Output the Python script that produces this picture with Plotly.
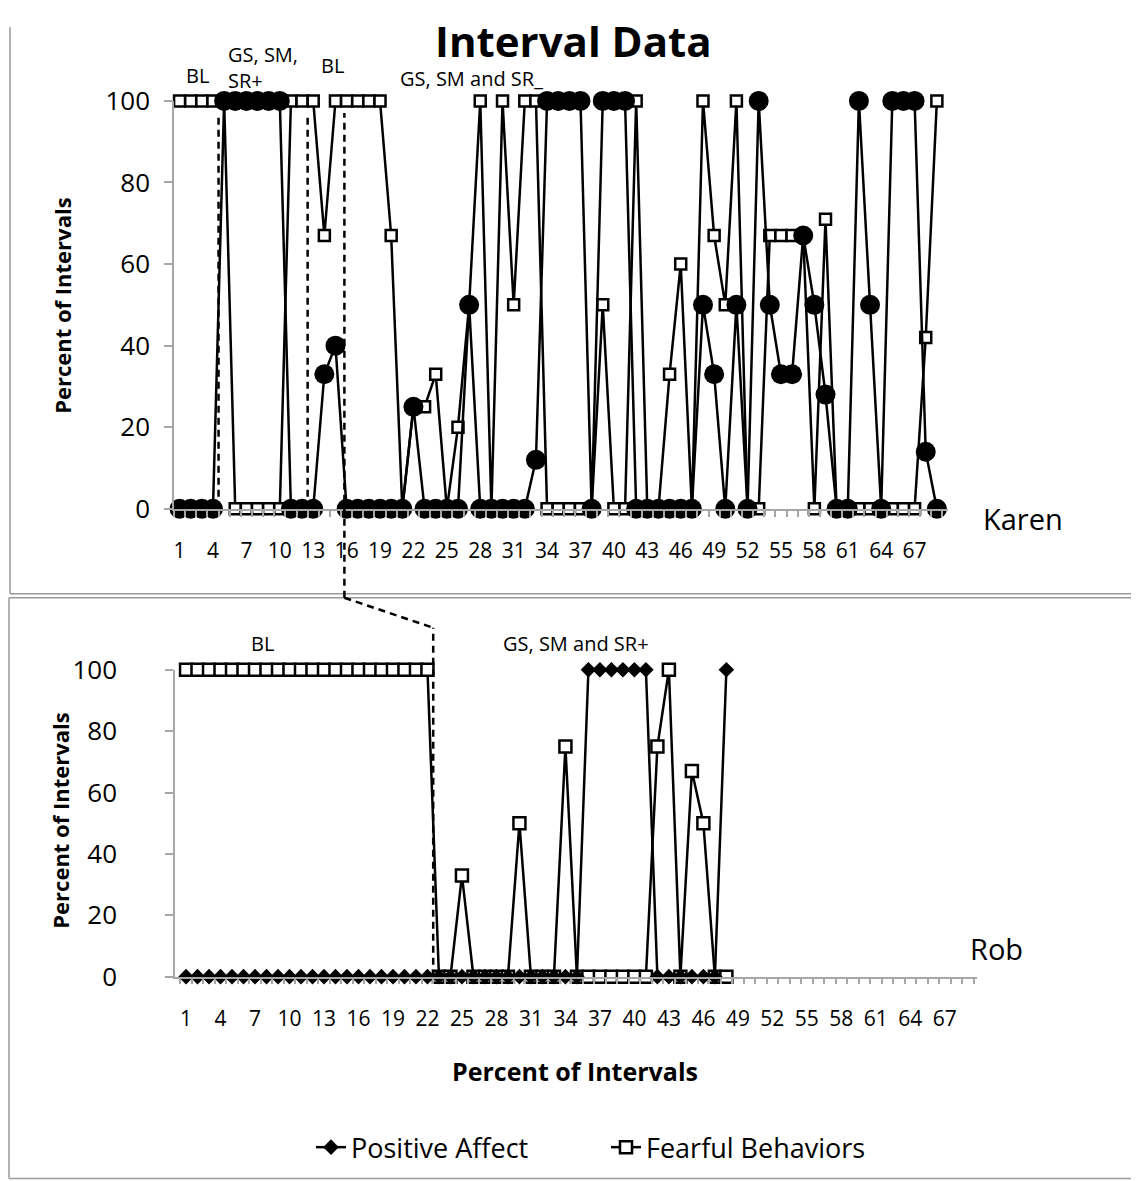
import plotly.graph_objects as go

# ---------------- data ----------------
karen_sessions = list(range(1, 70))
karen_positive = [0, 0, 0, 0, 100, 100, 100, 100, 100, 100,
                  0, 0, 0, 33, 40, 0, 0, 0, 0, 0,
                  0, 25, 0, 0, 0, 0, 50, 0, 0, 0,
                  0, 0, 12, 100, 100, 100, 100, 0, 100, 100,
                  100, 0, 0, 0, 0, 0, 0, 50, 33, 0,
                  50, 0, 100, 50, 33, 33, 67, 50, 28, 0,
                  0, 100, 50, 0, 100, 100, 100, 14, 0]
karen_fearful = [100, 100, 100, 100, 100, 0, 0, 0, 0, 0,
                 100, 100, 100, 67, 100, 100, 100, 100, 100, 67,
                 0, 25, 25, 33, 0, 20, 50, 100, 0, 100,
                 50, 100, 100, 0, 0, 0, 0, 0, 50, 0,
                 0, 100, 0, 0, 33, 60, 0, 100, 67, 50,
                 100, 0, 0, 67, 67, 67, 67, 0, 71, 0,
                 0, 0, 0, 0, 0, 0, 0, 42, 100]

rob_sessions = list(range(1, 49))
rob_positive = [0, 0, 0, 0, 0, 0, 0, 0, 0, 0,
                0, 0, 0, 0, 0, 0, 0, 0, 0, 0,
                0, 0, 0, 0, 0, 0, 0, 0, 0, 0,
                0, 0, 0, 0, 0, 100, 100, 100, 100, 100,
                100, 0, 0, 0, 0, 0, 0, 100]
rob_fearful = [100, 100, 100, 100, 100, 100, 100, 100, 100, 100,
               100, 100, 100, 100, 100, 100, 100, 100, 100, 100,
               100, 100, 0, 0, 33, 0, 0, 0, 0, 50,
               0, 0, 0, 75, 0, 0, 0, 0, 0, 0,
               0, 75, 100, 0, 67, 50, 0, 0]

x_tick_labels = [1, 4, 7, 10, 13, 16, 19, 22, 25, 28, 31, 34, 37, 40, 43, 46, 49, 52, 55, 58, 61, 64, 67]
y_ticks = [0, 20, 40, 60, 80, 100]

karen_phase_lines = [4.5, 12.5, 15.8]
rob_phase_line = 22.5

# ---------------- geometry helpers (target pixel -> paper) ----------------
OX, OY = 8, 8            # page body margin
FW, FH = 1131, 1189      # figure size
def px(v):
    return (v - OX) / FW
def py(v):
    page = (v - 18.3) / 0.97     # compensate the photographed vertical offset/scale
    return 1 - (page - OY) / FH

FONT = "Open Sans"
BLACK = "#000000"
GRAY = "#a6a6a6"
BORDER = "#9a9a9a"

top_xdom = [px(174), px(948)]
top_xrange = [0.5, 70.0]
bot_xdom = [px(175), px(977)]
bot_xrange = [0.04, 69.8]

def xpaper(val, dom, rng):
    return dom[0] + (val - rng[0]) / (rng[1] - rng[0]) * (dom[1] - dom[0])

fig = go.Figure()

# Karen
fig.add_trace(go.Scatter(x=karen_sessions, y=karen_fearful, mode="lines+markers",
                         line=dict(color=BLACK, width=2.5),
                         marker=dict(symbol="square", size=11, color="white",
                                     line=dict(color=BLACK, width=2.5)),
                         xaxis="x", yaxis="y", showlegend=False, cliponaxis=False))
fig.add_trace(go.Scatter(x=karen_sessions, y=karen_positive, mode="lines+markers",
                         line=dict(color=BLACK, width=2.5),
                         marker=dict(symbol="circle", size=20, color=BLACK),
                         xaxis="x", yaxis="y", showlegend=False, cliponaxis=False))
# Rob
fig.add_trace(go.Scatter(x=rob_sessions, y=rob_fearful, mode="lines+markers",
                         name="Fearful Behaviors", legendrank=2,
                         line=dict(color=BLACK, width=2.5),
                         marker=dict(symbol="square", size=12, color="white",
                                     line=dict(color=BLACK, width=2.5)),
                         xaxis="x2", yaxis="y2", cliponaxis=False))
fig.add_trace(go.Scatter(x=rob_sessions, y=rob_positive, mode="lines+markers",
                         name="Positive Affect", legendrank=1,
                         line=dict(color=BLACK, width=2.5),
                         marker=dict(symbol="diamond", size=12, color=BLACK),
                         xaxis="x2", yaxis="y2", cliponaxis=False))

xcommon = dict(showgrid=False, zeroline=False, showline=True, linecolor=GRAY, linewidth=1.5,
               tickmode="array", tickvals=x_tick_labels, ticktext=[str(v) for v in x_tick_labels],
               ticks="", tickfont=dict(family=FONT, size=21, color=BLACK),
               minor=dict(tick0=0.5, dtick=1, ticks="outside", ticklen=6, tickcolor=GRAY,
                          tickwidth=1.5, showgrid=False))
ycommon = dict(showgrid=False, zeroline=False, showline=True, linecolor=GRAY, linewidth=1.5,
               tickmode="array", tickvals=y_ticks, range=[0, 100],
               ticks="outside", ticklen=8, tickcolor=GRAY, tickwidth=1.5,
               tickfont=dict(family=FONT, size=26, color=BLACK))

fig.update_layout(
    width=FW, height=FH, autosize=False,
    margin=dict(l=0, r=0, t=0, b=0),
    paper_bgcolor="white", plot_bgcolor="white",
    font=dict(family=FONT, color=BLACK),
    xaxis=dict(domain=top_xdom, range=top_xrange, anchor="y", ticklabelstandoff=22, **xcommon),
    yaxis=dict(domain=[py(508), py(100)], anchor="x", ticklabelstandoff=9, **ycommon),
    xaxis2=dict(domain=bot_xdom, range=bot_xrange, anchor="y2", ticklabelstandoff=22, **xcommon),
    yaxis2=dict(domain=[py(976), py(669)], anchor="x2", ticklabelstandoff=43, **ycommon),
    legend=dict(orientation="h", x=px(311), y=py(1147), xanchor="left", yanchor="middle",
                font=dict(family=FONT, size=27, color=BLACK),
                entrywidth=250, entrywidthmode="pixels", bgcolor="rgba(0,0,0,0)"),
)

shapes = []
def seg(x0, y0, x1, y1):
    shapes.append(dict(type="line", xref="paper", yref="paper", x0=px(x0), x1=px(x1),
                       y0=min(max(py(y0), 0.0), 1.0), y1=min(max(py(y1), 0.0), 1.0),
                       line=dict(color=BORDER, width=1.5)))
# top panel border (its top edge lies above the photographed area)
seg(10, 0, 10, 593)
seg(1132, 0, 1132, 593)
seg(10, 593, 1132, 593)
# bottom panel border
seg(9, 597, 1132, 597)
seg(9, 597, 9, 1178)
seg(1132, 597, 1132, 1178)
seg(9, 1178, 1132, 1178)

dash = "7px,5px"
for v in karen_phase_lines[:2]:
    shapes.append(dict(type="line", xref="x", yref="y", x0=v, x1=v, y0=0, y1=97,
                       line=dict(color=BLACK, width=2.5, dash=dash)))
v3 = karen_phase_lines[2]
shapes.append(dict(type="line", xref="x", yref="paper", x0=v3, x1=v3, y0=py(597), y1=py(112),
                   line=dict(color=BLACK, width=2.5, dash=dash)))
shapes.append(dict(type="line", xref="paper", yref="paper",
                   x0=xpaper(v3, top_xdom, top_xrange), y0=py(597),
                   x1=xpaper(rob_phase_line, bot_xdom, bot_xrange), y1=py(627),
                   line=dict(color=BLACK, width=2.5, dash=dash)))
shapes.append(dict(type="line", xref="x2", yref="paper", x0=rob_phase_line, x1=rob_phase_line,
                   y0=py(976), y1=py(627), line=dict(color=BLACK, width=2.5, dash=dash)))
fig.update_layout(shapes=shapes)

ann = []
def text(x, y, s, size, bold=False, xanchor="center", angle=0, align="center"):
    ann.append(dict(x=px(x), y=py(y), xref="paper", yref="paper",
                    text=("<b>%s</b>" % s) if bold else s, align=align,
                    showarrow=False, xanchor=xanchor, yanchor="middle", textangle=angle,
                    font=dict(family=FONT, size=size, color=BLACK)))

text(573, 40, "Interval Data", 42, bold=True)
text(62, 305, "Percent of Intervals", 22, bold=True, angle=-90)
text(60, 820, "Percent of Intervals", 22, bold=True, angle=-90)
text(575, 1070, "Percent of Intervals", 25, bold=True)
text(1023, 518, "Karen", 29)
text(997, 948, "Rob", 29)
# phase labels
text(197, 75, "BL", 20)
text(226, 67, "GS, SM,<br>SR+", 20, xanchor="left", align="left")
text(332, 65, "BL", 20)
text(398, 78, "GS, SM and SR_", 20, xanchor="left")
text(262, 643, "BL", 20)
text(576, 643, "GS, SM and SR+", 20)
fig.update_layout(annotations=ann)

fig.write_html("out.html")
